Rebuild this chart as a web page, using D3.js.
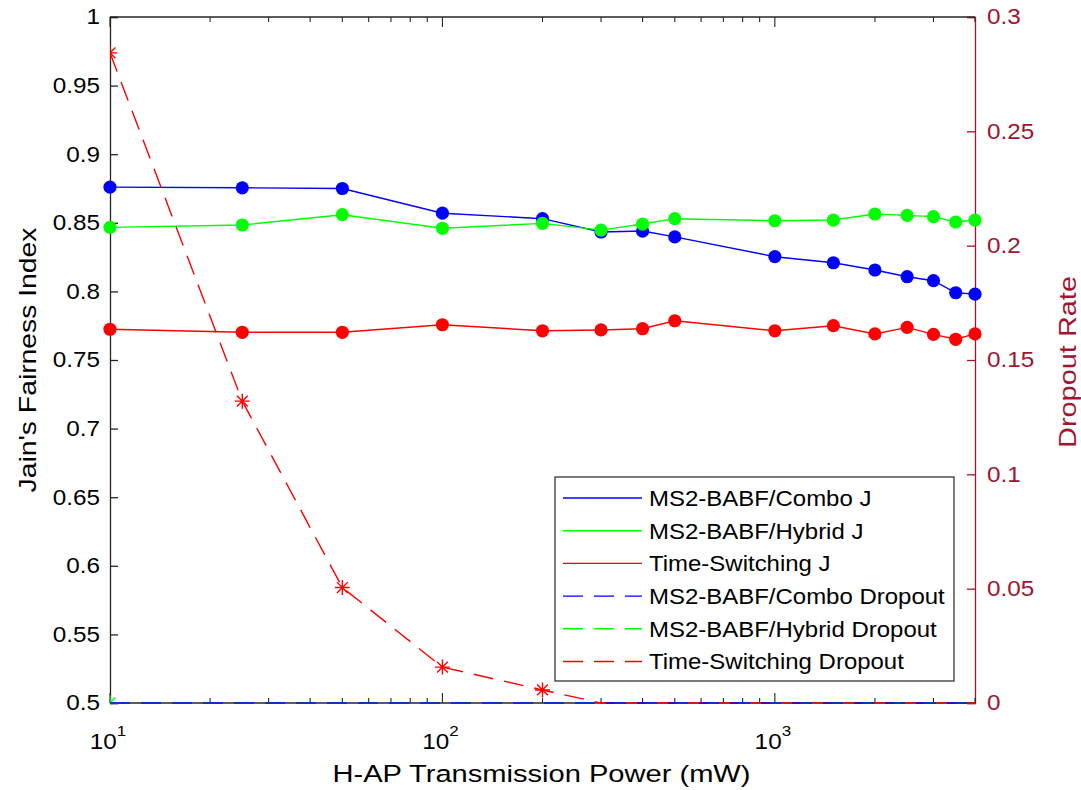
<!DOCTYPE html>
<html>
<head>
<meta charset="utf-8">
<script src="https://cdn.jsdelivr.net/npm/d3@7"></script>
<style>
  body { margin: 0; background: #fff; }
  text { font-family: "Liberation Sans", Arial, sans-serif; }
</style>
</head>
<body>
<div id="chart"></div>
<script>
"use strict"

// x values (mW)
const power = [10, 25, 50, 100, 200, 300, 400, 500, 1000, 1500, 2000, 2500, 3000, 3500, 4000];

// Jain's fairness index (left axis)
const comboJ  = [0.876, 0.8755, 0.875, 0.857, 0.853, 0.8433, 0.844, 0.8397, 0.8253, 0.8209, 0.8156, 0.8107, 0.8078, 0.799, 0.798];
const hybridJ = [0.8467, 0.8484, 0.8559, 0.846, 0.8496, 0.8447, 0.8491, 0.853, 0.8515, 0.852, 0.8564, 0.8554, 0.8545, 0.8506, 0.852];
const tsJ     = [0.7724, 0.7702, 0.7702, 0.7757, 0.7713, 0.7719, 0.7728, 0.7786, 0.7713, 0.775, 0.769, 0.7738, 0.7687, 0.7651, 0.769];

// dropout rate (right axis)
const comboDrop  = [0, 0, 0, 0, 0, 0, 0, 0, 0, 0, 0, 0, 0, 0, 0];
const hybridDrop = [0, 0, 0, 0, 0, 0, 0, 0, 0, 0, 0, 0, 0, 0, 0];
const tsDrop     = [0.2843, 0.132, 0.0505, 0.0157, 0.0057, 0, 0, 0, 0, 0, 0, 0, 0, 0, 0];

const leftTicks  = [0.5, 0.55, 0.6, 0.65, 0.7, 0.75, 0.8, 0.85, 0.9, 0.95, 1];
const rightTicks = [0, 0.05, 0.1, 0.15, 0.2, 0.25, 0.3];
const xMajor = [10, 100, 1000];

const legendNames = ["MS2-BABF/Combo J", "MS2-BABF/Hybrid J", "Time-Switching J",
                     "MS2-BABF/Combo Dropout", "MS2-BABF/Hybrid Dropout", "Time-Switching Dropout"];
const legendColors = ["#0000ff", "#00ff00", "#ff0000", "#0000ff", "#00ff00", "#ff0000"];

const axisColor = "#262626";
const rightColor = "#a2142f";
const dash = "20,11";

let W = 1081, H = 790;
let plot = {left: 110, right: 975, top: 17, bottom: 703};

let svg = d3.select("#chart").append("svg")
  .attr("width", W).attr("height", H)
  .style("background", "#fff");

let x = d3.scaleLog().domain([10, 4000]).range([plot.left, plot.right]);
let yL = d3.scaleLinear().domain([0.5, 1]).range([plot.bottom, plot.top]);
let yR = d3.scaleLinear().domain([0, 0.3]).range([plot.bottom, plot.top]);

// clip for the dropout lines (a bit of room at the bottom so the zero lines show)
svg.append("clipPath").attr("id", "plotClip")
  .append("rect")
  .attr("x", plot.left).attr("y", plot.top)
  .attr("width", plot.right - plot.left).attr("height", plot.bottom - plot.top + 1.5);

// stretch a text horizontally about its anchor
function stretch(sel, k) {
  sel.each(function() {
    let t = d3.select(this);
    let tx = +t.attr("x") || 0;
    t.attr("transform", "translate(" + tx + ",0) scale(" + k + ",1) translate(" + (-tx) + ",0)");
  });
}

// left axis
let gL = svg.append("g").attr("transform", "translate(" + plot.left + ",0)")
  .call(d3.axisLeft(yL).tickValues(leftTicks).tickSize(-8).tickPadding(10)
        .tickFormat(d => String(+d.toFixed(2))));
gL.select(".domain").attr("stroke", axisColor).attr("stroke-width", 1.3);
gL.selectAll(".tick line").attr("stroke", axisColor).attr("stroke-width", 1.3);
gL.selectAll(".tick text").attr("fill", "#000").style("font-size", "21.5px");
stretch(gL.selectAll(".tick text"), 1.13);

// right axis
let gR = svg.append("g").attr("transform", "translate(" + plot.right + ",0)")
  .call(d3.axisRight(yR).tickValues(rightTicks).tickSize(-8).tickPadding(12)
        .tickFormat(d => String(+d.toFixed(2))));
gR.select(".domain").attr("stroke", rightColor).attr("stroke-width", 1.3);
gR.selectAll(".tick line").attr("stroke", rightColor).attr("stroke-width", 1.3);
gR.selectAll(".tick text").attr("fill", rightColor).style("font-size", "21.5px");
stretch(gR.selectAll(".tick text"), 1.13);

// x ticks (bottom + top, log minor ticks)
let xTicks = x.ticks();
let gX = svg.append("g");
gX.append("line")
  .attr("x1", plot.left).attr("x2", plot.right)
  .attr("y1", plot.bottom).attr("y2", plot.bottom)
  .attr("stroke", axisColor).attr("stroke-width", 1.3);
gX.append("line")
  .attr("x1", plot.left).attr("x2", plot.right)
  .attr("y1", plot.top).attr("y2", plot.top)
  .attr("stroke", axisColor).attr("stroke-width", 1.3);
gX.selectAll(".xb").data(xTicks).enter().append("line")
  .attr("x1", d => x(d)).attr("x2", d => x(d))
  .attr("y1", plot.bottom)
  .attr("y2", d => plot.bottom - (xMajor.includes(d) ? 10 : 5))
  .attr("stroke", axisColor).attr("stroke-width", 1.1);
gX.selectAll(".xt").data(xTicks).enter().append("line")
  .attr("x1", d => x(d)).attr("x2", d => x(d))
  .attr("y1", plot.top)
  .attr("y2", d => plot.top + (xMajor.includes(d) ? 10 : 5))
  .attr("stroke", axisColor).attr("stroke-width", 1.1);

let xl = gX.selectAll(".xlab").data(xMajor).enter().append("text")
  .attr("x", d => x(d) - 2).attr("y", 749)
  .attr("text-anchor", "middle")
  .style("font-size", "21.5px").attr("fill", "#000");
xl.append("tspan").text("10");
xl.append("tspan").attr("dy", -13).style("font-size", "15px").text(d => Math.round(Math.log10(d)));
stretch(xl, 1.13);

// axis labels
svg.append("text")
  .attr("x", (plot.left + plot.right) / 2 - 1).attr("y", 782)
  .attr("text-anchor", "middle")
  .attr("textLength", 418).attr("lengthAdjust", "spacingAndGlyphs")
  .style("font-size", "24.5px").attr("fill", "#000")
  .text("H-AP Transmission Power (mW)");

svg.append("text")
  .attr("transform", "translate(36,360) rotate(-90)")
  .attr("text-anchor", "middle")
  .attr("textLength", 265).attr("lengthAdjust", "spacingAndGlyphs")
  .style("font-size", "24.5px").attr("fill", "#000")
  .text("Jain's Fairness Index");

svg.append("text")
  .attr("transform", "translate(1076,362) rotate(-90)")
  .attr("text-anchor", "middle")
  .attr("textLength", 172).attr("lengthAdjust", "spacingAndGlyphs")
  .style("font-size", "24.5px").attr("fill", rightColor)
  .text("Dropout Rate");

// J series (solid + filled dots)
let jSeries = [
  {vals: comboJ, color: "#0000ff"},
  {vals: hybridJ, color: "#00ff00"},
  {vals: tsJ, color: "#ff0000"}
];
let lineL = d3.line().x(d => x(d[0])).y(d => yL(d[1]));
jSeries.forEach(function(s) {
  let pts = power.map((p, i) => [p, s.vals[i]]);
  let g = svg.append("g");
  g.append("path").datum(pts)
    .attr("d", lineL).attr("fill", "none")
    .attr("stroke", s.color).attr("stroke-width", 1.4);
  g.selectAll("circle").data(pts).enter().append("circle")
    .attr("cx", d => x(d[0])).attr("cy", d => yL(d[1]))
    .attr("r", 6.6).attr("fill", s.color);
});

// dropout series (dashed + star markers), clipped to plot area
function starPath(cx, cy, r) {
  let a = r * 0.72;
  return "M" + (cx - r) + "," + cy + "H" + (cx + r) +
         "M" + cx + "," + (cy - r) + "V" + (cy + r) +
         "M" + (cx - a) + "," + (cy - a) + "L" + (cx + a) + "," + (cy + a) +
         "M" + (cx - a) + "," + (cy + a) + "L" + (cx + a) + "," + (cy - a);
}
let dSeries = [
  {vals: hybridDrop, color: "#00ff00", marks: [0]},
  {vals: tsDrop, color: "#ff0000", marks: [0, 1, 2, 3, 4]},
  {vals: comboDrop, color: "#0000ff", marks: []}
];
let lineR = d3.line().x(d => x(d[0])).y(d => yR(d[1]));
let gD = svg.append("g").attr("clip-path", "url(#plotClip)");
dSeries.forEach(function(s) {
  let pts = power.map((p, i) => [p, s.vals[i]]);
  gD.append("path").datum(pts)
    .attr("d", lineR).attr("fill", "none")
    .attr("stroke", s.color).attr("stroke-width", 1.4)
    .attr("stroke-dasharray", dash);
  gD.selectAll(null).data(s.marks.map(i => pts[i])).enter().append("path")
    .attr("d", d => starPath(x(d[0]), yR(d[1]), 7.5))
    .attr("fill", "none").attr("stroke", s.color).attr("stroke-width", 1.4);
});

// legend
let leg = {x: 555, y: 477, w: 399, h: 204, row0: 498, rowH: 32.7};
let gLeg = svg.append("g");
gLeg.append("rect")
  .attr("x", leg.x).attr("y", leg.y).attr("width", leg.w).attr("height", leg.h)
  .attr("fill", "#fff").attr("stroke", axisColor).attr("stroke-width", 1.2);
legendNames.forEach(function(name, i) {
  let cy = leg.row0 + i * leg.rowH;
  gLeg.append("line")
    .attr("x1", 563).attr("x2", 642).attr("y1", cy).attr("y2", cy)
    .attr("stroke", legendColors[i]).attr("stroke-width", 1.4)
    .attr("stroke-dasharray", i < 3 ? null : dash);
  let t = gLeg.append("text")
    .attr("x", 649).attr("y", cy).attr("dy", "0.36em")
    .style("font-size", "22px").attr("fill", "#000")
    .text(name);
  stretch(t, 1.09);
});
</script>
</body>
</html>
